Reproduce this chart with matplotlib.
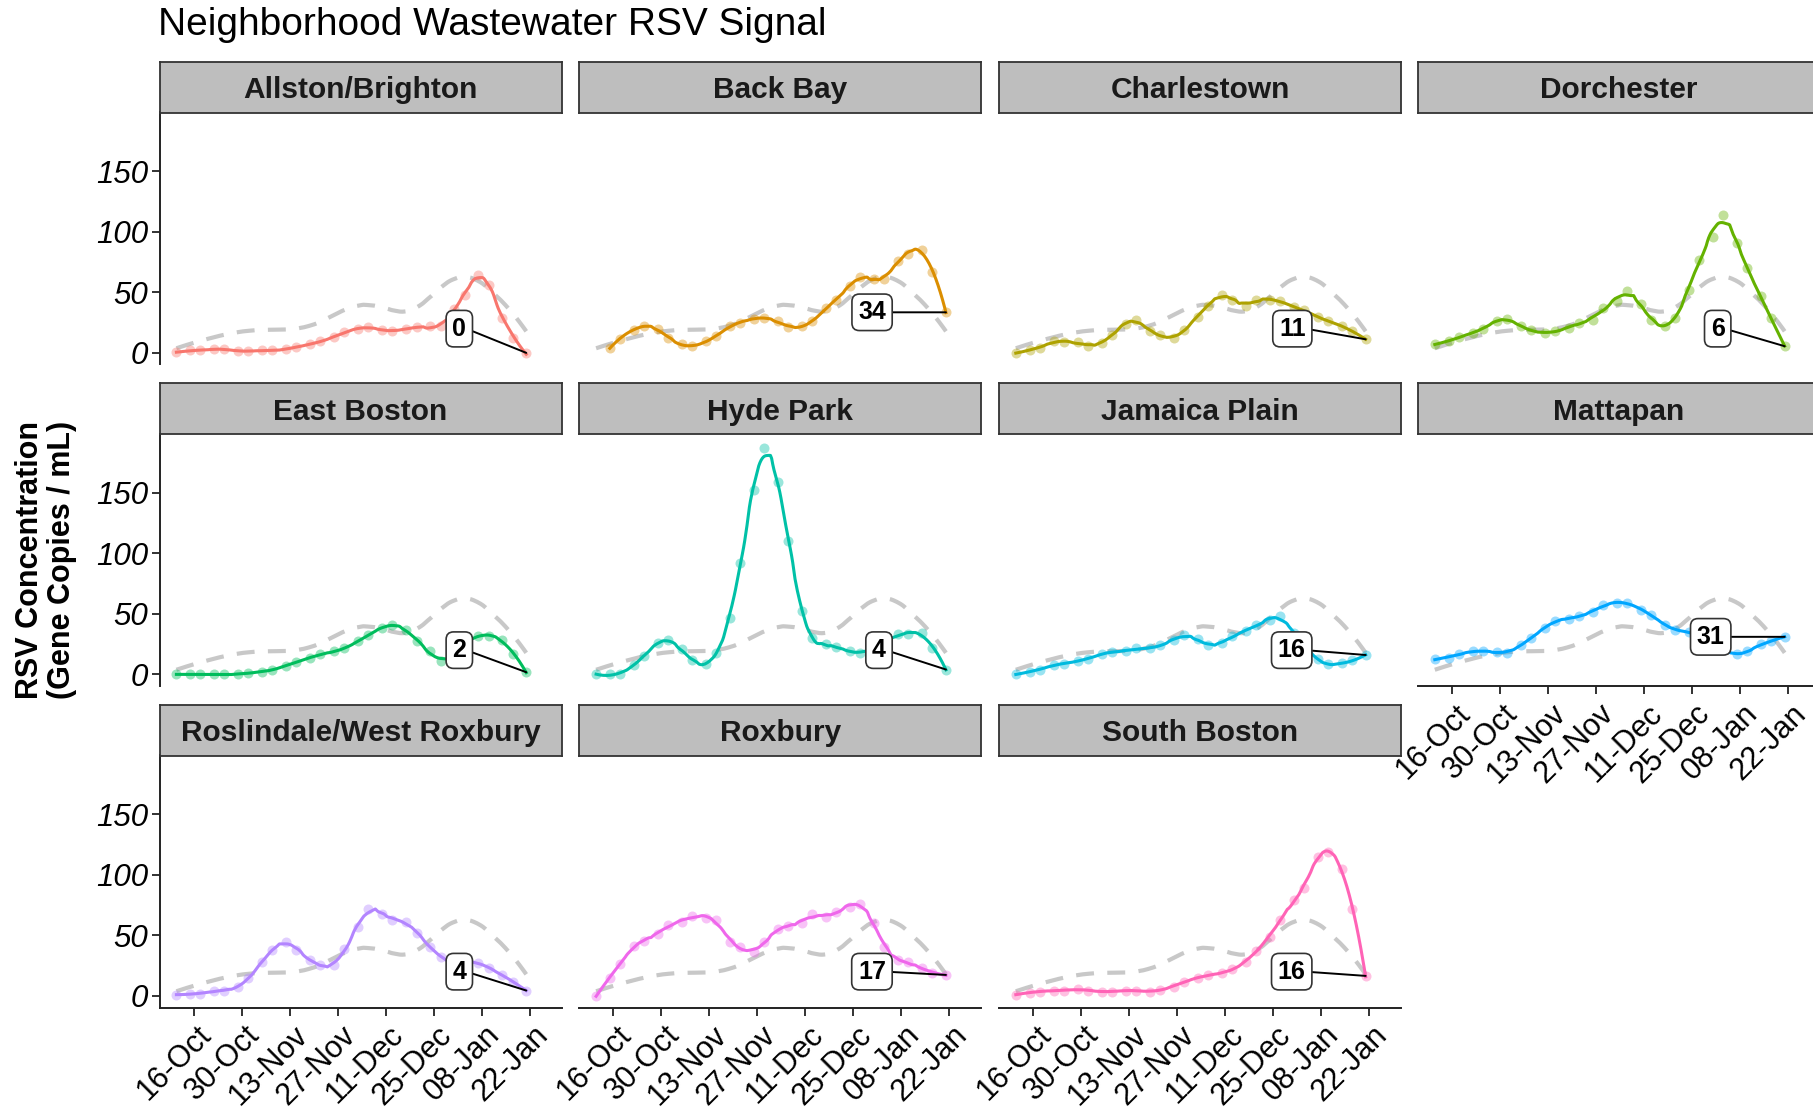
import numpy as np
import pandas as pd
import matplotlib
matplotlib.use('Agg')
import matplotlib.pyplot as plt
import matplotlib.dates as mdates
from matplotlib.transforms import ScaledTranslation

plt.rcParams['font.family'] = ['Liberation Sans', 'DejaVu Sans']

# sample dates (twice a week)
dates = pd.date_range('2023-10-11', '2024-01-21', freq='W-WED').union(
    pd.date_range('2023-10-11', '2024-01-21', freq='W-SUN'))

neighborhoods = ['Allston/Brighton', 'Back Bay', 'Charlestown', 'Dorchester',
                 'East Boston', 'Hyde Park', 'Jamaica Plain', 'Mattapan',
                 'Roslindale/West Roxbury', 'Roxbury', 'South Boston']

colors = ['#F8766D', '#DB8E00', '#AEA200', '#64B200', '#00BD5C', '#00C1A7',
          '#00BADE', '#00A6FF', '#B385FF', '#EF67EB', '#FF63B6']

nan = np.nan
allston = [0.5, 2, 2, 3, 3, 1.5, 1.5, 2, 2, 3, 5, 7, 9.6, 13, 17, 20, 21, 19, 18, 20,
           21, 22, 22, 36, 48, 64.5, 56, 29, 12, 0]
back_bay = [nan, 4, 11.5, 19, 22, 20, 12, 7, 5.5, 9.6, 13.7, 22, 25, 28, 29, 26, 21.4, 22, 26, 37,
            44, 55, 63, 61, 61, 76, 82, 85, 67, 33.5]
charlestown = [0, 2, 4, 9.6, 8.8, 8.8, 6, 8.2, 15, 24, 27, 18, 15, 12.4, 19, 30, 39, 48, 44, 39,
               44, 44, 42.5, 38, 35, 30, 26, 22.5, 18, 11.2]
dorchester = [7, 9.6, 13, 16.5, 20, 26, 28, 22, 18.7, 16.5, 18, 20.6, 25, 27.5, 37, 42.5, 51, 40, 27.5, 22.5,
              29, 52, 77, 96, 114, 90.6, 70, 46.7, 29, 5.5]
east_boston = [0, 0, 0, 0, 0, 0, 1.4, 2, 4, 7, 10.4, 13.7, 16.5, 19, 21.4, 27.5, 32.4, 38.4, 40.6, 37,
               27.5, 19, 11, 17, 25, 31.6, 32, 28, 17, 1.8]
hyde_park = [0, 0, 0.5, 8, 15, 26, 28, 20.6, 11.5, 8.8, 18, 46.7, 92, 152, 187, 159, 110, 52, 30, 24.7,
             23, 19, 18, 22, 26, 33, 33, 34, 22, 4]
jamaica_plain = [0, 2, 4, 7.7, 8.8, 11, 13, 16.5, 18.7, 19, 21.4, 21.4, 24, 28, 32.4, 29, 24, 26, 31.6, 35.7,
                 40.6, 44.5, 48, 34, 24.7, 12.4, 8.2, 9.6, 11.5, 16]
mattapan = [12.4, 13.7, 16.5, 19, 19, 18.7, 18, 24, 30, 38, 44, 46, 48, 51.6, 57, 59, 59, 53.5, 49.4, 41,
            37, 35, 32, 28, 21, 16.5, 19, 24.7, 27.5, 31]
roslindale = [1, 1.6, 1.6, 4.4, 4.4, 7.7, 14.6, 28, 38, 44.8, 38, 29.7, 25.5, 25.5, 39, 57, 72, 68, 62.6, 61,
              52, 40.6, 32.4, 27, 28, 27.5, 22.8, 17.3, 11.8, 4.4]
roxbury = [0, 14.6, 26, 41, 45.6, 51, 58.5, 61, 66, 64, 62.6, 44.8, 40.6, 36.5, 44.8, 55, 57.7, 60.4, 67.5, 65,
           69.5, 73.6, 76, 60, 40.6, 29.7, 28, 22.8, 18.7, 17.3]
south_boston = [1, 2.7, 3.6, 4.4, 4.4, 5.5, 4.4, 3.6, 3.6, 4.4, 4.4, 3.6, 5, 7.7, 11.8, 14.6, 17.3, 18.7, 22, 28,
                37.3, 49, 62.6, 79, 88.7, 114.8, 119, 105, 72, 16.5]
citywide = [4, 7, 10, 13, 15, 17, 18.5, 19, 19, 19.5, 20, 22, 26, 31, 36, 39, 40, 38, 35, 34,
            36, 46, 55, 61, 63, 60, 53, 41, 31, 19]

series = [allston, back_bay, charlestown, dorchester, east_boston, hyde_park,
          jamaica_plain, mattapan, roslindale, roxbury, south_boston]

tick_dates = pd.date_range('2023-10-16', '2024-01-22', freq='14D')


def loess(x, y, xs, span=0.2, deg=2):
    # simple local quadratic fit, tricube weights
    n = len(x)
    k = max(deg + 3, int(np.ceil(span * n)))
    out = []
    for x0 in xs:
        d = np.abs(x - x0)
        idx = np.argsort(d)[:k]
        h = d[idx].max() * 1.05
        w = (1 - (d[idx] / h) ** 3) ** 3
        coef = np.polyfit(x[idx] - x0, y[idx], deg, w=np.sqrt(w))
        out.append(coef[-1])
    return np.array(out)


W, H = 1813, 1112
fig = plt.figure(figsize=(W / 100, H / 100), dpi=100)

col_left = [159.6, 579.3, 999.0, 1418.0]
panel_w = 402
strip_top = [61.5, 383.0, 704.5]
strip_h = 51
plot_h = 252

x0 = mdates.date2num(pd.Timestamp('2023-10-16'))
xnum = mdates.date2num(dates)
city = np.array(citywide, dtype=float)
xs_city = np.linspace(xnum[0], xnum[-1], 300)
city_smooth = loess(xnum, city, xs_city, span=0.25)

for i, (name, vals, col) in enumerate(zip(neighborhoods, series, colors)):
    r, c = divmod(i, 4)
    bottom = (r == 2) or (i == 7)
    ax = fig.add_axes([col_left[c] / W, 1 - (strip_top[r] + strip_h + plot_h) / H,
                       panel_w / W, plot_h / H])
    sax = fig.add_axes([col_left[c] / W, 1 - (strip_top[r] + strip_h) / H,
                        panel_w / W, strip_h / H])
    sax.set_facecolor('#bebebe')
    sax.set_xticks([]), sax.set_yticks([])
    for s in sax.spines.values():
        s.set_color('#333333'), s.set_linewidth(1.3)
    sax.text(0.5, 0.44, name, ha='center', va='center', fontsize=21.5,
             fontweight='bold', color='#1a1a1a', transform=sax.transAxes)

    y = np.array(vals, dtype=float)
    m = ~np.isnan(y)
    xv, yv = xnum[m], y[m]

    ax.plot(xs_city, city_smooth, color='#c8c8c8', lw=3,
            linestyle=(0, (4.3, 3.2)), zorder=1)
    ax.scatter(xv, yv, s=52, color=col, alpha=0.4, linewidths=0, zorder=2)
    xs = np.linspace(xv[0], xv[-1], 300)
    ax.plot(xs, loess(xv, yv, xs, span=0.2), color=col, lw=2.2, zorder=3)

    last = yv[-1]
    ax.annotate(f'{round(last):d}', xy=(xv[-1], last),
                xytext=(x0 + 79.5, max(last, 20)), ha='right', va='center',
                fontsize=18, fontweight='bold',
                bbox=dict(boxstyle='round,pad=0.25,rounding_size=0.3', fc='white',
                          ec='#333333', lw=1.2),
                arrowprops=dict(arrowstyle='-', color='black', lw=1.4,
                                relpos=(1, 0.5), shrinkA=0, shrinkB=0),
                zorder=5)

    ax.set_xlim(x0 - 9.9, x0 + 107.3)
    ax.set_ylim(-9.6, 198.5)
    ax.set_facecolor('none')
    for s in ['top', 'right']:
        ax.spines[s].set_visible(False)
    ax.spines['left'].set_visible(c == 0)
    ax.spines['bottom'].set_visible(bottom)
    for s in ['left', 'bottom']:
        ax.spines[s].set_linewidth(1.4)
        ax.spines[s].set_color('#222222')

    ax.set_yticks([0, 50, 100, 150])
    if c == 0:
        ax.tick_params(axis='y', length=6, width=1.3, labelsize=22.5, pad=2,
                       color='#222222')
        for t in ax.get_yticklabels():
            t.set_fontstyle('italic')
    else:
        ax.tick_params(axis='y', left=False, labelleft=False)

    ax.set_xticks(mdates.date2num(tick_dates))
    if bottom:
        ax.xaxis.set_major_formatter(mdates.DateFormatter('%d-%b'))
        ax.tick_params(axis='x', length=6, width=1.3, labelsize=22, pad=3,
                       color='#222222')
        shift = ScaledTranslation(3 / 100, 0, fig.dpi_scale_trans)
        for t in ax.get_xticklabels():
            t.set_rotation(45)
            t.set_ha('right')
            t.set_va('top')
            t.set_rotation_mode('anchor')
            t.set_transform(t.get_transform() + shift)
    else:
        ax.tick_params(axis='x', bottom=False, labelbottom=False)

fig.text(158 / W, 1 - 25 / H, 'Neighborhood Wastewater RSV Signal', fontsize=28,
         ha='left', va='center')
fig.text(46 / W, 1 - 560 / H, 'RSV Concentration\n(Gene Copies / mL)', fontsize=22,
         fontweight='bold', rotation=90, ha='center', va='center',
         multialignment='center', linespacing=1.05)

fig.savefig('out.png', dpi=100)
